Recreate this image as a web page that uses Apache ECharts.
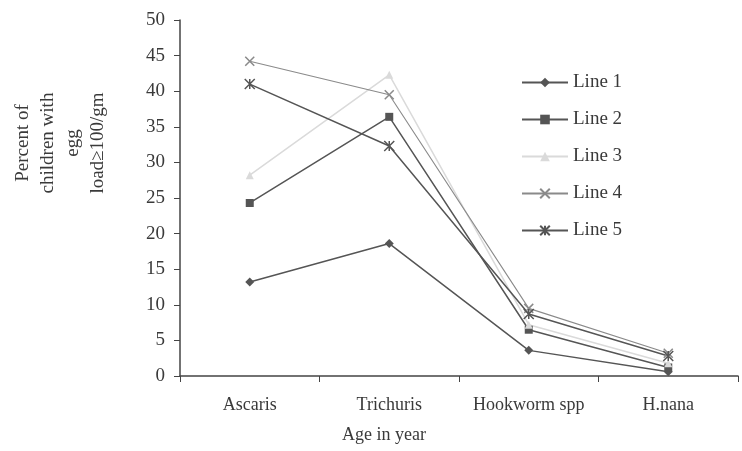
<!DOCTYPE html>
<html>
<head>
<meta charset="utf-8">
<script src="https://cdn.jsdelivr.net/npm/echarts@6/dist/echarts.min.js"></script>
<style>
  html, body { margin: 0; padding: 0; background: #fff; }
  #chart { width: 742px; height: 451px; }
</style>
</head>
<body>
<div id="chart"></div>
<script>
var categories = ["Ascaris", "Trichuris", "Hookworm spp", "H.nana"];
var yTicks = [0, 5, 10, 15, 20, 25, 30, 35, 40, 45, 50];
var line1 = [13.2, 18.6, 3.6, 0.6];
var line2 = [24.3, 36.4, 6.5, 1.2];
var line3 = [28.2, 42.3, 7.2, 1.8];
var line4 = [44.2, 39.5, 9.5, 3.2];
var line5 = [41.0, 32.3, 8.7, 2.8];

var serif = "Liberation Serif";
var textColor = "#3a3a3a";

function makeSeries(name, data, color, symbol, size, width, stroked) {
  return {
    name: name,
    type: "line",
    data: data,
    symbol: symbol,
    symbolSize: size,
    showAllSymbol: true,
    lineStyle: { color: color, width: width },
    itemStyle: stroked
      ? { color: "rgba(0,0,0,0)", borderColor: color, borderWidth: 1.5 }
      : { color: color, borderWidth: 0 },
    emphasis: { disabled: true }
  };
}

var myChart = echarts.init(document.getElementById("chart"), null, { width: 742, height: 451 });
var option = {
  backgroundColor: "#fff",
  animation: false,
  grid: { left: 180, right: 4, top: 20, bottom: 75, containLabel: false, outerBoundsMode: "none" },
  legend: {
    orient: "vertical",
    left: 516,
    top: 68,
    itemWidth: 46,
    itemHeight: 12,
    itemGap: 18,
    textStyle: { fontFamily: serif, fontSize: 19, color: textColor },
    data: ["Line 1", "Line 2", "Line 3", "Line 4", "Line 5"]
  },
  xAxis: {
    type: "category",
    data: categories,
    boundaryGap: true,
    name: "Age in year",
    nameLocation: "middle",
    nameGap: 50,
    nameTextStyle: { fontFamily: serif, fontSize: 18, color: textColor, padding: [0, 150, 0, 0] },
    axisLine: { lineStyle: { color: "#444", width: 1.5 } },
    axisTick: { show: true, interval: 0, length: 6, lineStyle: { color: "#444" } },
    axisLabel: { interval: 0, fontFamily: serif, fontSize: 18, color: textColor, margin: 20 }
  },
  yAxis: {
    type: "value",
    min: yTicks[0],
    max: yTicks[yTicks.length - 1],
    interval: 5,
    name: "Percent of\nchildren with\negg\nload≥100/gm",
    nameLocation: "middle",
    nameRotate: 90,
    nameGap: 69,
    nameTextStyle: {
      fontFamily: serif, fontSize: 19, color: textColor, lineHeight: 25,
      align: "center", padding: [0, 0, 0, 110]
    },
    splitLine: { show: false },
    axisLine: { show: true, lineStyle: { color: "#444", width: 1.5 } },
    axisTick: { show: true, length: 6, lineStyle: { color: "#444" } },
    axisLabel: { fontFamily: serif, fontSize: 19, color: textColor, margin: 15 }
  },
  series: [
    makeSeries("Line 1", line1, "#555", "diamond", 9, 1.5, false),
    makeSeries("Line 2", line2, "#555", "rect", 8, 1.5, false),
    makeSeries("Line 3", line3, "#dadada", "triangle", 8, 1.5, false),
    makeSeries("Line 4", line4, "#8a8a8a", "path://M0,0L10,10M10,0L0,10", 9, 1.1, true),
    makeSeries("Line 5", line5, "#555", "path://M5,0L5,10M0,0L10,10M10,0L0,10", 10, 1.5, true)
  ]
};
myChart.setOption(option);
</script>
</body>
</html>
